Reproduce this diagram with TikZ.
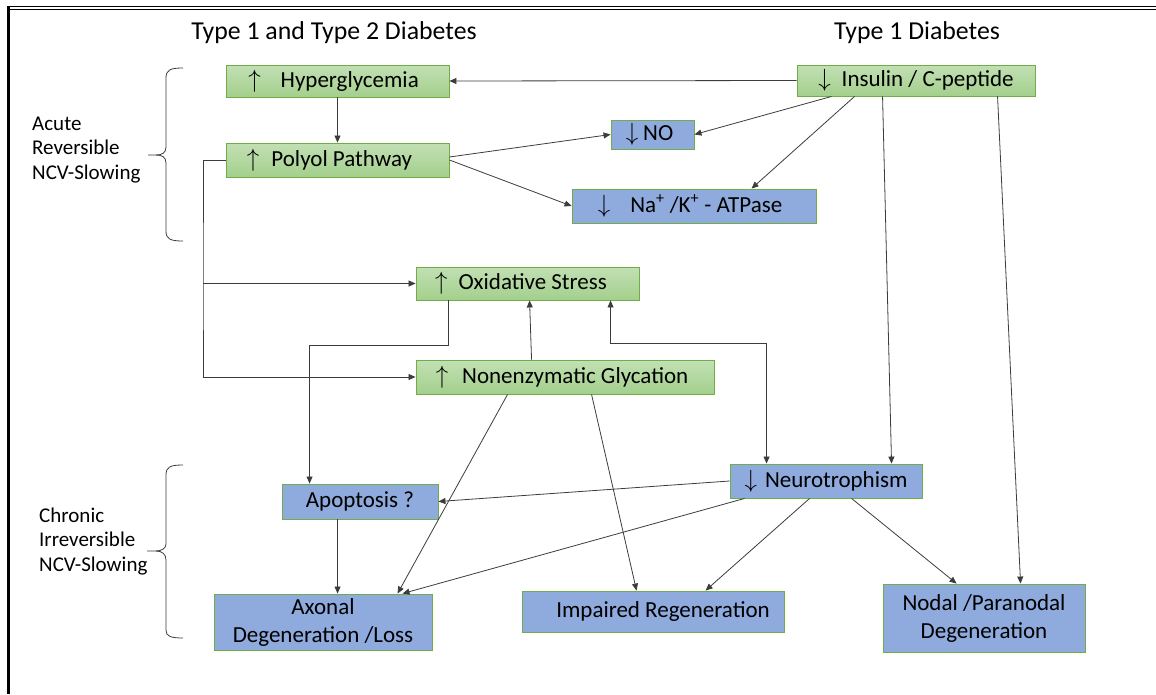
\documentclass[tikz,border=0pt]{standalone}
\usepackage{fontspec}
\setmainfont{Carlito}
\usetikzlibrary{arrows.meta}

\definecolor{greentop}{RGB}{194,224,180}
\definecolor{greenbot}{RGB}{163,207,140}
\definecolor{bluefill}{RGB}{143,170,220}
\definecolor{boxline}{RGB}{112,173,71}
\definecolor{linegray}{RGB}{60,60,60}

\begin{document}
\begin{tikzpicture}[x=1pt, y=-1pt,
        box/.style={draw=boxline, line width=0.9pt, inner sep=0pt, align=center,
            font=\fontsize{23}{28}\selectfont},
        greenbox/.style={box, top color=greentop, bottom color=greenbot},
        bluebox/.style={box, fill=bluefill},
        conn/.style={-{Triangle[length=7pt, width=6pt]}, draw=linegray, line width=0.8pt},
        side/.style={align=left, anchor=west, inner sep=0pt, font=\fontsize{21}{24.5}\selectfont},
        head/.style={font=\fontsize{25.8}{30}\selectfont}]
    \useasboundingbox (0, 0) rectangle (1156, 694);
    % frame of the screenshot
    \draw [line width=1.4pt] (7, 6.5) -- (1156, 6.5);
    \draw [line width=1.1pt] (7, 9.8) -- (1156, 9.8);
    \draw [line width=2.6pt] (8.7, 6) -- (8.7, 694);

    % column titles
    \node [head] (t12) at (334, 33) {Type 1 and Type 2 Diabetes};
    \node [head] (t1) at (917, 33) {Type 1 Diabetes};

    % boxes
    \node [greenbox, minimum width=223pt, minimum height=32pt] (hyper) at (337.5, 81)
        {$\uparrow$\hspace{20pt}Hyperglycemia\hspace*{8pt}};
    \node [greenbox, minimum width=223pt, minimum height=34pt] (polyol) at (337.5, 160)
        {$\uparrow$\hspace{12pt}Polyol Pathway\hspace*{16pt}};
    \node [greenbox, minimum width=238pt, minimum height=31pt] (ins) at (916, 80.5)
        {$\downarrow$\hspace{11pt}Insulin / C-peptide};
    \node [bluebox, minimum width=83pt, minimum height=29pt] (no) at (652.5, 134.5)
        {$\downarrow$\hspace{5pt}NO\hspace*{6pt}};
    \node [bluebox, minimum width=244pt, minimum height=34pt] (nak) at (694, 206)
        {$\downarrow$\hspace{20pt}Na\textsuperscript{+} /K\textsuperscript{+} - ATPase\hspace*{8pt}};
    \node [greenbox, minimum width=223pt, minimum height=33pt] (oxi) at (527.5, 283.5)
        {$\uparrow$\hspace{11pt}Oxidative Stress\hspace*{13pt}};
    \node [greenbox, minimum width=298pt, minimum height=34pt] (glyc) at (565, 377)
        {$\uparrow$\hspace{14pt}Nonenzymatic Glycation\hspace*{6pt}};
    \node [bluebox, minimum width=192pt, minimum height=34pt] (neuro) at (826, 481)
        {$\downarrow$\hspace{8pt}Neurotrophism};
    \node [bluebox, minimum width=156pt, minimum height=35pt] (apop) at (360, 501.5)
        {Apoptosis ?};
    \node [bluebox, minimum width=218pt, minimum height=56pt] (axon) at (323, 622)
        {Axonal\\Degeneration /Loss};
    \node [bluebox, minimum width=262pt, minimum height=41pt] (impair) at (653, 611.5)
        {\hspace*{20pt}Impaired Regeneration};
    \node [bluebox, minimum width=202pt, minimum height=68pt] (nodal) at (984, 618)
        {Nodal /Paranodal\\Degeneration};

    % side labels and braces
    \node [side] (acute) at (32, 150) {Acute\\Reversible\\NCV-Slowing};
    \node [side] (chronic) at (39, 541.5) {Chronic\\Irreversible\\NCV-Slowing};
    \draw [linegray, line width=0.8pt] (183, 68) .. controls (170, 68) and (166, 70) .. (166, 78)
        -- (166, 147) .. controls (166, 153) and (162, 155) .. (156, 155) -- (148, 155);
    \draw [linegray, line width=0.8pt] (156, 155) .. controls (162, 155) and (166, 157) .. (166, 163)
        -- (166, 231) .. controls (166, 239) and (170, 241) .. (183, 241);
    \draw [linegray, line width=0.8pt] (183, 465) .. controls (170, 465) and (166, 467) .. (166, 475)
        -- (166, 544) .. controls (166, 548) and (162, 551) .. (156, 551) -- (147, 551);
    \draw [linegray, line width=0.8pt] (156, 551) .. controls (162, 551) and (166, 554) .. (166, 560)
        -- (166, 630) .. controls (166, 636) and (170, 638) .. (183, 638);

    % connectors
    \coordinate (split) at (203, 283.5);
    \draw [conn] (ins.west) -- (hyper.east);
    \draw [conn] (hyper.south) -- (polyol.north);
    \draw [conn] ([yshift=3pt]polyol.east) -- (no.west);
    \draw [conn] (polyol.east) -- (nak.west);
    \draw [conn] ([xshift=35pt]ins.south west) -- (no.east);
    \draw [conn] ([xshift=58pt]ins.south west) -- ([xshift=180pt]nak.north west);
    \draw [conn] ([xshift=86pt]ins.south west) -- ([xshift=162pt]neuro.north west);
    \draw [conn] ([xshift=201pt]ins.south west) -- ([xshift=138pt]nodal.north west);
    \draw [conn] (polyol.west) -| (split) |- (glyc.west);
    \draw [conn] (split) -- (oxi.west);
    \draw [conn] ([xshift=33pt]oxi.south west) -- ++(0, 45) -| ([xshift=28pt]apop.north west);
    \draw [conn] ([xshift=116pt]glyc.north west) -- ([xshift=114pt]oxi.south west);
    \draw [conn, {Triangle[length=7pt, width=6pt]}-{Triangle[length=7pt, width=6pt]}]
        ([xshift=195pt]oxi.south west) -- ++(0, 43) -| ([xshift=37pt]neuro.north west);
    \draw [conn] ([xshift=92pt]glyc.south west) -- ([xshift=184pt]axon.north west);
    \draw [conn] ([xshift=176pt]glyc.south west) -- ([xshift=115pt]impair.north west);
    \draw [conn] (neuro.west) -- (apop.east);
    \draw [conn] ([xshift=15pt]neuro.south west) -- ([xshift=189pt]axon.north west);
    \draw [conn] ([xshift=80pt]neuro.south west) -- ([xshift=184pt]impair.north west);
    \draw [conn] ([xshift=122pt]neuro.south west) -- ([xshift=74pt]nodal.north west);
    \draw [conn] ([xshift=56pt]apop.south west) -- ([xshift=124pt]axon.north west);
\end{tikzpicture}
\end{document}
